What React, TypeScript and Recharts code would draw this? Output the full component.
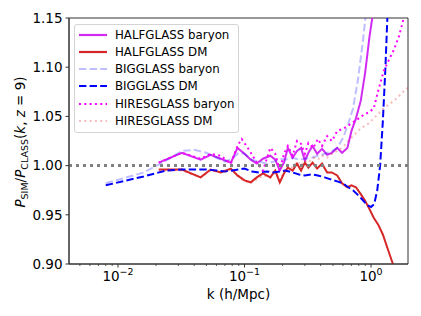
import { LineChart, Line, XAxis, YAxis, ReferenceLine, ReferenceArea } from 'recharts'

// k values (h/Mpc) and P_sim/P_class ratios
const HALF_BARYON_K = [0.021, 0.032, 0.045, 0.054, 0.065, 0.078, 0.088, 0.1, 0.112, 0.125, 0.14, 0.16, 0.175, 0.19, 0.205, 0.22, 0.24, 0.26, 0.28, 0.3, 0.32, 0.345, 0.375, 0.41, 0.45, 0.49, 0.54, 0.59, 0.65, 0.7, 0.76, 0.83, 0.9, 0.97, 1.05, 1.14]
const HALF_BARYON = [1.003, 1.013, 1.006, 1.011, 1.007, 1.003, 1.018, 1.012, 1.006, 1.002, 1.007, 1.01, 1.006, 0.995, 1.003, 1.018, 1.008, 1.015, 1.018, 1.005, 1.013, 1.02, 1.012, 1.017, 1.011, 1.013, 1.018, 1.013, 1.018, 1.035, 1.048, 1.066, 1.095, 1.13, 1.16, 1.2]

const HALF_DM_K = [0.021, 0.032, 0.045, 0.054, 0.065, 0.078, 0.088, 0.1, 0.112, 0.125, 0.14, 0.16, 0.175, 0.19, 0.205, 0.22, 0.24, 0.26, 0.28, 0.3, 0.32, 0.345, 0.375, 0.41, 0.45, 0.49, 0.54, 0.59, 0.65, 0.7, 0.76, 0.83, 0.9, 0.97, 1.05, 1.14, 1.24, 1.35, 1.48, 1.62]
const HALF_DM = [0.996, 0.996, 0.988, 0.996, 0.993, 0.997, 0.99, 0.985, 0.983, 0.988, 0.992, 0.988, 0.995, 0.983, 0.992, 0.998, 0.995, 1.002, 0.995, 1.003, 0.998, 1.003, 0.997, 1.002, 0.993, 0.993, 0.99, 0.982, 0.978, 0.98, 0.978, 0.971, 0.964, 0.956, 0.947, 0.94, 0.93, 0.916, 0.901, 0.885]

const BIG_BARYON_K = [0.008, 0.016, 0.024, 0.032, 0.04, 0.05, 0.06, 0.07, 0.08, 0.09, 0.1, 0.115, 0.13, 0.15, 0.17, 0.19, 0.21, 0.24, 0.27, 0.3, 0.34, 0.38, 0.43, 0.48, 0.54, 0.6, 0.66, 0.72, 0.79, 0.86, 0.93]
const BIG_BARYON = [0.982, 0.993, 1.005, 1.015, 1.016, 1.013, 1.008, 1.004, 1.007, 1.013, 1.012, 1.006, 1.004, 1.002, 1.004, 1.007, 1.006, 1.008, 1.006, 1.007, 1.008, 1.01, 1.012, 1.014, 1.018, 1.028, 1.042, 1.058, 1.088, 1.125, 1.165]

const BIG_DM_K = [0.008, 0.016, 0.024, 0.032, 0.04, 0.05, 0.06, 0.07, 0.08, 0.09, 0.1, 0.115, 0.13, 0.15, 0.17, 0.19, 0.21, 0.24, 0.27, 0.3, 0.34, 0.38, 0.43, 0.48, 0.54, 0.6, 0.66, 0.72, 0.79, 0.86, 0.93, 1.0, 1.06, 1.12, 1.18, 1.24, 1.3, 1.36]
const BIG_DM = [0.98, 0.989, 0.995, 0.996, 0.996, 0.996, 0.995, 0.994, 0.995, 0.996, 0.997, 0.994, 0.993, 0.994, 0.993, 0.994, 0.995, 0.993, 0.991, 0.99, 0.991, 0.99, 0.988, 0.986, 0.984, 0.982, 0.978, 0.975, 0.97, 0.965, 0.96, 0.958, 0.961, 0.975, 1.0, 1.045, 1.1, 1.165]

const HIRES_K = [0.021, 0.032, 0.045, 0.054, 0.065, 0.078, 0.088, 0.095, 0.11, 0.125, 0.14, 0.16, 0.175, 0.19, 0.205, 0.22, 0.24, 0.26, 0.28, 0.3, 0.32, 0.35, 0.38, 0.41, 0.45, 0.49, 0.54, 0.59, 0.65, 0.72, 0.8, 0.88, 0.96, 1.05, 1.15, 1.26, 1.38, 1.52, 1.67, 1.83, 1.95]
const HIRES_BARYON = [1.003, 1.013, 1.007, 1.012, 1.01, 1.002, 1.02, 1.027, 1.015, 1.003, 0.995, 1.018, 1.012, 0.995, 1.012, 1.02, 1.01, 1.025, 1.022, 1.012, 1.023, 1.018, 1.027, 1.02, 1.03, 1.025, 1.035, 1.037, 1.04, 1.044, 1.048, 1.052, 1.054, 1.058, 1.078, 1.096, 1.107, 1.118, 1.132, 1.152, 1.17]
const HIRES_DM = [0.995, 0.995, 0.988, 0.995, 0.993, 0.996, 0.99, 0.986, 0.982, 0.986, 0.99, 0.988, 0.993, 0.985, 0.994, 1.0, 0.998, 1.004, 1.0, 1.005, 1.003, 1.008, 1.006, 1.01, 1.008, 1.012, 1.015, 1.018, 1.024, 1.03, 1.036, 1.04, 1.043, 1.048, 1.053, 1.058, 1.062, 1.066, 1.071, 1.076, 1.079]

const X_MAJOR = [0.01, 0.1, 1]
const X_MINOR = [0.005, 0.006, 0.007, 0.008, 0.009, 0.02, 0.03, 0.04, 0.05, 0.06, 0.07, 0.08, 0.09, 0.2, 0.3, 0.4, 0.5, 0.6, 0.7, 0.8, 0.9]
const Y_TICKS = [0.9, 0.95, 1.0, 1.05, 1.1, 1.15]

const X_DOMAIN = [0.0041, 1.96]
const Y_DOMAIN = [0.9, 1.15]

const rows = (ks: number[], vs: number[]) => ks.map((k, i) => ({ k, v: vs[i] }))

const DASHED = '7.4 3.2'
const DOTTED = '2 3.3'

const SERIES = [
  { name: 'HALFGLASS baryon', data: rows(HALF_BARYON_K, HALF_BARYON), color: '#d22cf2', opacity: 1, dash: undefined },
  { name: 'HALFGLASS DM', data: rows(HALF_DM_K, HALF_DM), color: '#d62728', opacity: 1, dash: undefined },
  { name: 'BIGGLASS baryon', data: rows(BIG_BARYON_K, BIG_BARYON), color: '#0000ff', opacity: 0.25, dash: DASHED },
  { name: 'BIGGLASS DM', data: rows(BIG_DM_K, BIG_DM), color: '#0000ff', opacity: 1, dash: DASHED },
  { name: 'HIRESGLASS baryon', data: rows(HIRES_K, HIRES_BARYON), color: '#ff00ff', opacity: 1, dash: DOTTED },
  { name: 'HIRESGLASS DM', data: rows(HIRES_K, HIRES_DM), color: '#e02020', opacity: 0.3, dash: DOTTED },
]

const FONT = '"DejaVu Sans", sans-serif'
const AXIS = '#333'

const XTick = (props: any) => {
  const { x, y, payload } = props
  const v = payload.value
  const major = X_MAJOR.some(m => Math.abs(m - v) < 1e-9)
  const exp = Math.round(Math.log10(v))
  return (
    <g>
      <line x1={x} x2={x} y1={y} y2={y + (major ? 3.5 : 2)} stroke={AXIS} strokeWidth={major ? 1 : 0.8} />
      {major && (
        <text x={x} y={y + 17} textAnchor="middle" fontSize={13.5} fontFamily={FONT} fill="#000">
          10<tspan dy={-6} fontSize={9.5}>{exp < 0 ? '\u2212' + Math.abs(exp) : String(exp)}</tspan>
        </text>
      )}
    </g>
  )
}

const YTick = (props: any) => {
  const { x, y, payload } = props
  return (
    <g>
      <line x1={x - 3.5} x2={x} y1={y} y2={y} stroke={AXIS} />
      <text x={x - 6.5} y={y} dy="0.36em" textAnchor="end" fontSize={13.5} fontFamily={FONT} fill="#000">
        {payload.value.toFixed(2)}
      </text>
    </g>
  )
}

const YLabel = () => (
  <text transform="translate(25,142) rotate(-90)" textAnchor="middle" fontSize={13.5} fontFamily={FONT} fill="#000">
    <tspan fontStyle="italic">P</tspan>
    <tspan fontSize={9.5} dy={3}>SIM</tspan>
    <tspan dy={-3}>/</tspan>
    <tspan fontStyle="italic">P</tspan>
    <tspan fontSize={9.5} dy={3}>CLASS</tspan>
    <tspan dy={-3}>(</tspan>
    <tspan fontStyle="italic">k</tspan>
    <tspan>, </tspan>
    <tspan fontStyle="italic">z</tspan>
    <tspan> = 9)</tspan>
  </text>
)

function LegendBox() {
  return (
    <div
      style={{
        position: 'absolute', left: 74, top: 24, width: 163, height: 107,
        border: '1px solid #d4d4d4', borderRadius: 3, background: 'rgba(255,255,255,0.8)',
        fontFamily: FONT, fontSize: 11.8, color: '#000',
      }}
    >
      {SERIES.map((s, i) => (
        <div key={s.name} style={{ position: 'absolute', left: 3, top: 1 + i * 17.3, height: 17, display: 'flex', alignItems: 'center' }}>
          <svg width={30} height={10} style={{ marginRight: 7 }}>
            <line x1={1} x2={29} y1={5} y2={5} stroke={s.color} strokeOpacity={s.opacity} strokeWidth={2.2} strokeDasharray={s.dash} />
          </svg>
          <span style={{ whiteSpace: 'nowrap' }}>{s.name}</span>
        </div>
      ))}
    </div>
  )
}

export default function App() {
  return (
    <div style={{ position: 'relative', width: 421, height: 316, background: '#fff' }}>
      <style>{'body{margin:0}'}</style>
      <LineChart width={421} height={316} margin={{ top: 18, right: 13, bottom: 0, left: 0 }}>
        <XAxis
          dataKey="k" type="number" scale="log" domain={X_DOMAIN} allowDataOverflow
          ticks={[...X_MINOR, ...X_MAJOR].sort((a, b) => a - b)} interval={0}
          tick={<XTick />} tickLine={false} tickSize={0} tickMargin={0} height={52}
          axisLine={{ stroke: AXIS }}
          label={{ value: 'k (h/Mpc)', position: 'insideBottom', offset: 17, fontSize: 13.5, fontFamily: FONT, fill: '#000' }}
        />
        <YAxis
          type="number" domain={Y_DOMAIN} allowDataOverflow ticks={Y_TICKS} interval={0}
          tick={<YTick />} tickLine={false} tickSize={0} tickMargin={0} width={69}
          axisLine={{ stroke: AXIS }}
        />
        {SERIES.map(s => (
          <Line
            key={s.name} data={s.data} dataKey="v" name={s.name} type="linear"
            stroke={s.color} strokeOpacity={s.opacity} strokeWidth={2} strokeDasharray={s.dash}
            dot={false} activeDot={false} isAnimationActive={false}
          />
        ))}
        <ReferenceLine y={1} stroke="#808080" strokeWidth={3} strokeDasharray="3 4" />
        <ReferenceArea
          x1={X_DOMAIN[0]} x2={X_DOMAIN[1]} y1={Y_DOMAIN[0]} y2={Y_DOMAIN[1]}
          fill="none" stroke={AXIS} strokeWidth={1} ifOverflow="visible"
        />
        <YLabel />
      </LineChart>
      <LegendBox />
    </div>
  )
}
